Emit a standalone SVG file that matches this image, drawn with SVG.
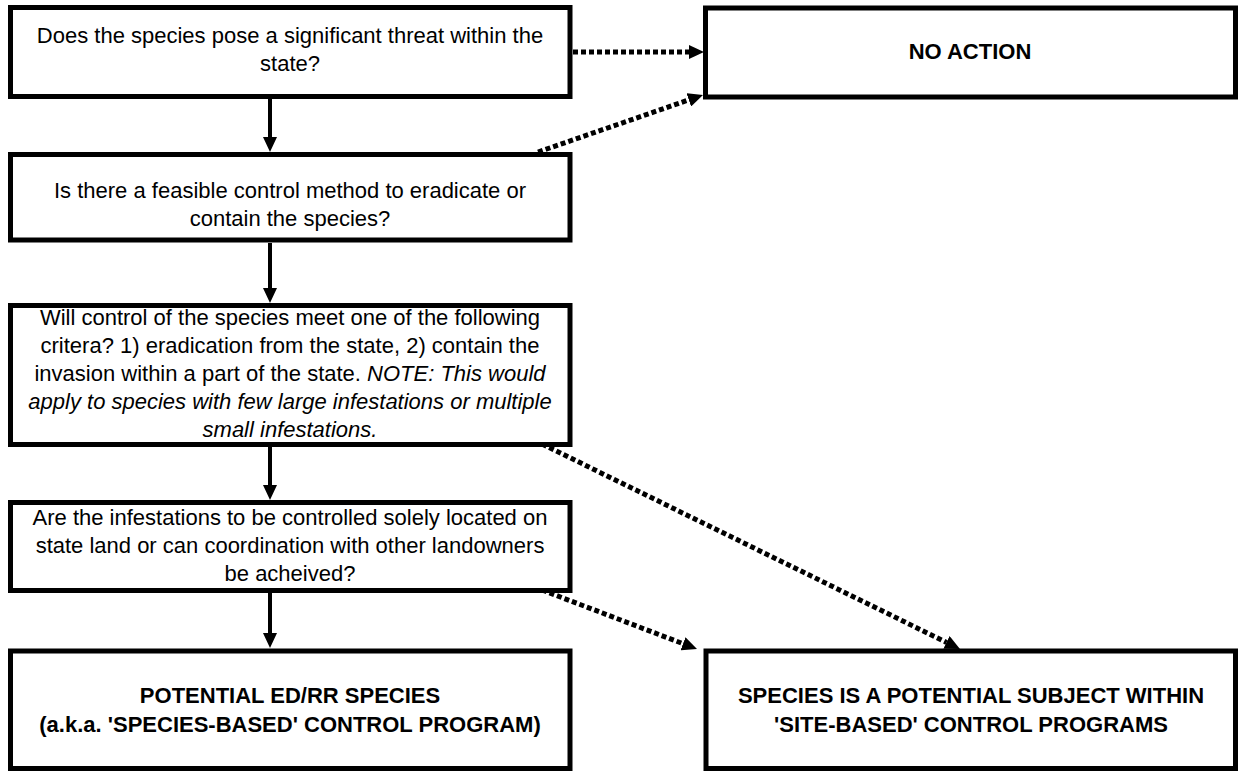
<svg xmlns="http://www.w3.org/2000/svg" width="1238" height="772" viewBox="0 0 1238 772">
<defs>
<style>
.box{fill:#fff;stroke:#000;stroke-width:5}
.t{font-family:"Liberation Sans",Arial,sans-serif;font-size:22px;fill:#000;text-anchor:middle}
.b{font-weight:bold}
.i{font-style:italic}
.solid{stroke:#000;stroke-width:4;fill:none}
.dot{stroke:#000;stroke-width:5;fill:none;stroke-dasharray:5 3}
</style>
<marker id="ah" viewBox="0 0 15 14" refX="0" refY="7" markerWidth="15" markerHeight="14" markerUnits="userSpaceOnUse" orient="auto">
<path d="M0,0 L15,7 L0,14 z" fill="#000"/>
</marker>
</defs>
<rect width="1238" height="772" fill="#fff"/>
<g id="connectors">
<line class="solid" x1="270" y1="99" x2="270" y2="137" marker-end="url(#ah)"/>
<line class="solid" x1="270" y1="243" x2="270" y2="288" marker-end="url(#ah)"/>
<line class="solid" x1="270" y1="447" x2="270" y2="485" marker-end="url(#ah)"/>
<line class="solid" x1="270" y1="593" x2="270" y2="633" marker-end="url(#ah)"/>
<line class="dot" x1="573" y1="52" x2="689" y2="52" marker-end="url(#ah)"/>
<line class="dot" x1="538" y1="152" x2="688.8" y2="99.9" marker-end="url(#ah)"/>
<line class="dot" x1="542" y1="444" x2="946.5" y2="642.4" marker-end="url(#ah)"/>
<line class="dot" x1="542" y1="590" x2="683" y2="643.7" marker-end="url(#ah)"/>
</g>
<g id="q1">
<rect class="box" x="10.5" y="7.5" width="559.5" height="89"/>
<text class="t" x="290" y="43">Does the species pose a significant threat within the</text>
<text class="t" x="290" y="71">state?</text>
</g>
<g id="noaction">
<rect class="box" x="705.5" y="8" width="530" height="89"/>
<text class="t b" x="970" y="59">NO ACTION</text>
</g>
<g id="q2">
<rect class="box" x="10.5" y="154.5" width="559.5" height="85.5"/>
<text class="t" x="290" y="198">Is there a feasible control method to eradicate or</text>
<text class="t" x="290" y="226">contain the species?</text>
</g>
<g id="q3">
<rect class="box" x="10.5" y="305.5" width="559.5" height="139"/>
<text class="t" x="290" y="325">Will control of the species meet one of the following</text>
<text class="t" x="290" y="353">critera? 1) eradication from the state, 2) contain the</text>
<text class="t" x="290" y="381">invasion within a part of the state. <tspan class="i">NOTE: This would</tspan></text>
<text class="t i" x="290" y="409">apply to species with few large infestations or multiple</text>
<text class="t i" x="290" y="437">small infestations.</text>
</g>
<g id="q4">
<rect class="box" x="10.5" y="502.5" width="559.5" height="88"/>
<text class="t" x="290" y="525">Are the infestations to be controlled solely located on</text>
<text class="t" x="290" y="553">state land or can coordination with other landowners</text>
<text class="t" x="290" y="581">be acheived?</text>
</g>
<g id="edrr">
<rect class="box" x="10.5" y="651" width="559.5" height="117.5"/>
<text class="t b" x="290" y="703">POTENTIAL ED/RR SPECIES</text>
<text class="t b" x="290" y="732">(a.k.a. 'SPECIES-BASED' CONTROL PROGRAM)</text>
</g>
<g id="sitebased">
<rect class="box" x="706" y="651" width="529.5" height="117.5"/>
<text class="t b" x="971" y="703">SPECIES IS A POTENTIAL SUBJECT WITHIN</text>
<text class="t b" x="971" y="732">'SITE-BASED' CONTROL PROGRAMS</text>
</g>
</svg>
